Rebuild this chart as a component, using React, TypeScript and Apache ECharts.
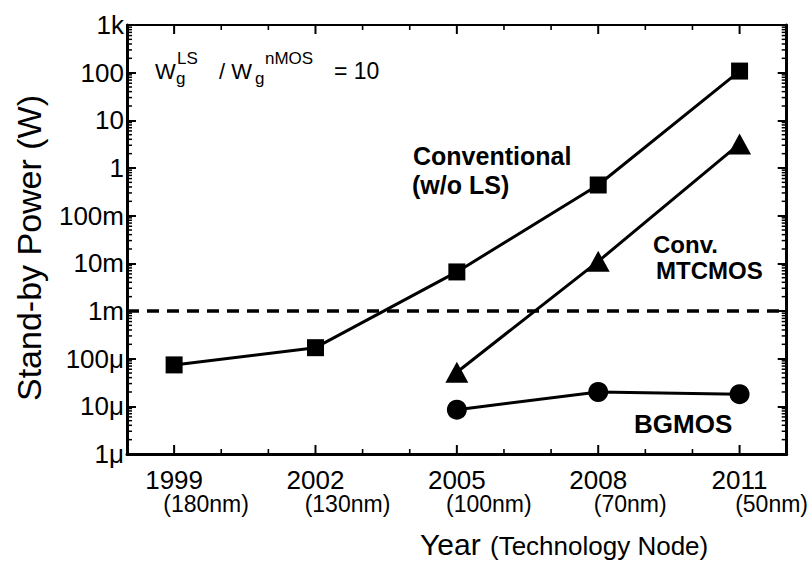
import React, { useEffect, useRef } from 'react';
import * as echarts from 'echarts';

// ---- data ----
const years = [1999, 2002, 2005, 2008, 2011];
const nodes = ['(180nm)', '(130nm)', '(100nm)', '(70nm)', '(50nm)'];
const conventional = [7.4e-5, 1.7e-4, 6.6e-3, 0.44, 108];
const mtcmosYears = [2005, 2008, 2011];
const mtcmos = [5.2e-5, 1.1e-2, 3.2];
const bgmosYears = [2005, 2008, 2011];
const bgmos = [8.5e-6, 2.0e-5, 1.8e-5];
const yTickLabels = ['1μ', '10μ', '100μ', '1m', '10m', '100m', '1', '10', '100', '1k'];
const threshold = 1e-3;
const xMin = 1998;
const xMax = 2012;
const yMin = 1e-6;
const yMax = 1e3;

const FONT = 'Liberation Sans, Arial, Helvetica, sans-serif';

// minor log tick values (2..9 x 10^n)
const minorVals: number[] = [];
for (let n = -6; n < 3; n++) {
  for (let k = 2; k <= 9; k++) minorVals.push(k * Math.pow(10, n));
}

function txt(x: number, baseline: number, text: string, fs: number, bold = false) {
  return {
    type: 'text',
    x,
    y: baseline - 0.35 * fs,
    silent: true,
    style: {
      text,
      fontSize: fs,
      fontFamily: FONT,
      fontWeight: bold ? 'bold' : 'normal',
      fill: '#000',
      align: 'left',
      verticalAlign: 'middle',
    },
  };
}

export default function App() {
  const ref = useRef<HTMLDivElement>(null);
  useEffect(() => {
    document.body.style.margin = '0';
    const chart = echarts.init(ref.current!, undefined, { renderer: 'svg' });
    const black = '#000';
    const seg = (x1: number, y1: number, x2: number, y2: number, w: number) => ({
      type: 'line',
      shape: { x1, y1, x2, y2 },
      style: { stroke: black, lineWidth: w },
    });
    const option: any = {
      animation: false,
      backgroundColor: '#fff',
      grid: { left: 127, top: 25, right: 20, bottom: 110, containLabel: false },
      xAxis: [
        {
          type: 'value',
          min: xMin,
          max: xMax,
          interval: 1,
          position: 'bottom',
          splitLine: { show: false },
          axisLine: { onZero: false, lineStyle: { color: black, width: 3 } },
          axisTick: { show: false },
          axisLabel: {
            margin: 13,
            fontFamily: FONT,
            color: black,
            formatter: (v: number) => {
              const i = years.indexOf(v);
              if (i < 0) return '';
              return `{a|${years[i]}}\n{b|${nodes[i]}}`;
            },
            rich: {
              a: { fontSize: 26, lineHeight: 26, fontFamily: FONT, color: black },
              b: { fontSize: 23, lineHeight: 22, fontFamily: FONT, color: black, padding: [0, 0, 0, 64] },
            },
          },
        },
        {
          type: 'value',
          min: xMin,
          max: xMax,
          interval: 1,
          position: 'top',
          splitLine: { show: false },
          axisLine: { onZero: false, lineStyle: { color: black, width: 2 } },
          axisTick: { show: false },
          axisLabel: { show: false },
        },
      ],
      yAxis: [
        {
          type: 'log',
          logBase: 10,
          min: yMin,
          max: yMax,
          splitNumber: 9,
          position: 'left',
          splitLine: { show: false },
          axisLine: { onZero: false, lineStyle: { color: black, width: 3 } },
          axisTick: { inside: true, length: 9, lineStyle: { color: black, width: 2 } },
          axisLabel: {
            margin: 3,
            fontSize: 26,
            fontFamily: FONT,
            color: black,
            formatter: (v: number) => yTickLabels[Math.round(Math.log10(v)) + 6] ?? '',
          },
        },
        {
          type: 'log',
          logBase: 10,
          min: yMin,
          max: yMax,
          splitNumber: 9,
          position: 'right',
          splitLine: { show: false },
          axisLine: { onZero: false, lineStyle: { color: black, width: 3 } },
          axisTick: { inside: true, length: 9, lineStyle: { color: black, width: 2 } },
          axisLabel: { show: false },
        },
      ],
      series: [
        {
          name: 'Frame ticks',
          type: 'custom',
          xAxisIndex: 0,
          yAxisIndex: 0,
          silent: true,
          clip: false,
          z: 5,
          data: [[xMin, threshold]],
          renderItem: (params: any, api: any) => {
            const cs = params.coordSys;
            const left = cs.x;
            const right = cs.x + cs.width;
            const top = cs.y;
            const bottom = cs.y + cs.height;
            const children: any[] = [];
            for (let yr = xMin + 1; yr < xMax; yr++) {
              const x = api.coord([yr, threshold])[0];
              const major = years.indexOf(yr) >= 0;
              const len = major ? 9 : 5;
              const w = major ? 2 : 1.6;
              children.push(seg(x, bottom, x, bottom - len, w), seg(x, top, x, top + len, w));
            }
            for (const v of minorVals) {
              const y = api.coord([xMin, v])[1];
              children.push(seg(left, y, left + 5, y, 1.5), seg(right, y, right - 5, y, 1.5));
            }
            return { type: 'group', children };
          },
        },
        {
          name: 'Threshold',
          type: 'line',
          xAxisIndex: 0,
          yAxisIndex: 0,
          data: [
            [xMin, threshold],
            [xMax, threshold],
          ],
          symbol: 'none',
          silent: true,
          z: 1,
          lineStyle: { color: black, width: 3.5, type: [12, 8] },
        },
        {
          name: 'Conventional (w/o LS)',
          type: 'line',
          xAxisIndex: 0,
          yAxisIndex: 0,
          data: years.map((y, i) => [y, conventional[i]]),
          symbol: 'rect',
          symbolSize: 17,
          itemStyle: { color: black },
          lineStyle: { color: black, width: 3 },
        },
        {
          name: 'Conv. MTCMOS',
          type: 'line',
          xAxisIndex: 0,
          yAxisIndex: 0,
          data: mtcmosYears.map((y, i) => [y, mtcmos[i]]),
          symbol: 'triangle',
          symbolSize: [23, 21],
          itemStyle: { color: black },
          lineStyle: { color: black, width: 3 },
        },
        {
          name: 'BGMOS',
          type: 'line',
          xAxisIndex: 0,
          yAxisIndex: 0,
          data: bgmosYears.map((y, i) => [y, bgmos[i]]),
          symbol: 'circle',
          symbolSize: 20,
          itemStyle: { color: black },
          lineStyle: { color: black, width: 3 },
        },
      ],
      graphic: [
        // annotation W_g^LS / W_g^nMOS = 10
        txt(155, 79, 'W', 22),
        txt(177, 64, 'LS', 17),
        txt(176, 84, 'g', 17),
        txt(219, 79, '/ W', 22),
        txt(255, 84, 'g', 17),
        txt(265, 64, 'nMOS', 17),
        txt(334, 79, '= 10', 23),
        // series labels
        txt(413, 165, 'Conventional', 25, true),
        txt(412, 194, '(w/o LS)', 25, true),
        txt(653, 253, 'Conv.', 24, true),
        txt(656, 279, 'MTCMOS', 24, true),
        txt(634, 433, 'BGMOS', 26, true),
        // x axis name
        txt(420, 555, 'Year', 30),
        txt(490, 555, '(Technology Node)', 26),
        // y axis name
        {
          type: 'text',
          x: 29,
          y: 248,
          rotation: Math.PI / 2,
          silent: true,
          style: {
            text: 'Stand-by Power (W)',
            fontSize: 34,
            fontFamily: FONT,
            fill: black,
            align: 'center',
            verticalAlign: 'middle',
          },
        },
      ],
    };
    chart.setOption(option);
    return () => chart.dispose();
  }, []);
  return (
    <div
      ref={ref}
      style={{ position: 'fixed', left: 0, top: 0, width: 811, height: 564, background: '#fff' }}
    />
  );
}
